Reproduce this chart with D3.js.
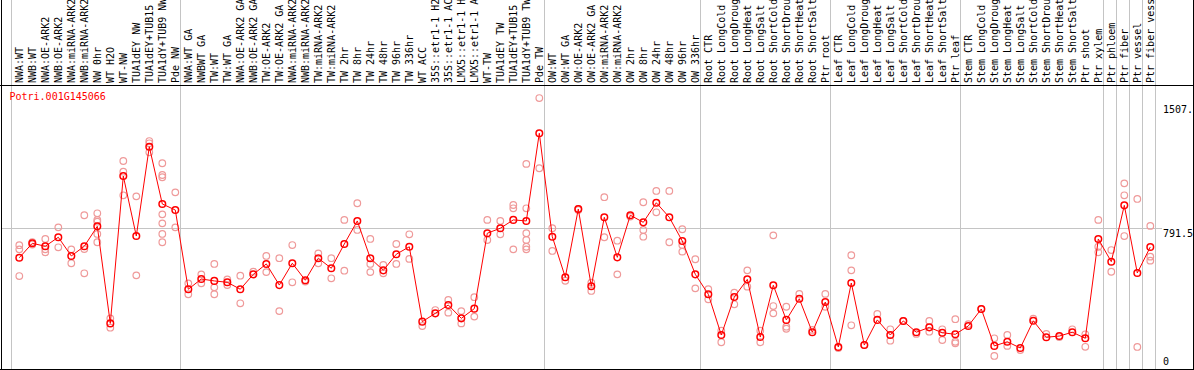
<!DOCTYPE html>
<html>
<head>
<meta charset="utf-8">
<script src="https://cdn.jsdelivr.net/npm/d3@7"></script>
<style>
  body { margin: 0; background: #fff; }
  svg { display: block; }
  text { font-family: "DejaVu Sans Mono", monospace; font-size: 10px; }
</style>
</head>
<body>
<div id="chart"></div>
<script>
// column labels, one per sample
var labels = [
  "NWA:WT","NWB:WT","NWA:OE-ARK2","NWB:OE-ARK2","NWA:miRNA-ARK2","NWB:miRNA-ARK2","NW 0hr","WT H2O","WT-NW","TUA1dEY NW","TUA1dEY+TUB15 NW","TUA1dY+TUB9 NW","Pde NW",
  "NWA:WT GA","NWBWT GA","TW:WT","TW:WT GA","NWA:OE-ARK2 GA","NWB:OE-ARK2 GA","TW:OE-ARK2","TW:OE-ARK2 GA","NWA:miRNA-ARK2 GA","NWB:miRNA-ARK2 GA","TW:miRNA-ARK2","TW:miRNA-ARK2 GA","TW 2hr","TW 8hr","TW 24hr","TW 48hr","TW 96hr","TW 336hr","WT ACC","35S::etr1-1 H2O","35S::etr1-1 ACC","LMX5::etr1-1 H2O","LMX5::etr1-1 ACC","WT-TW","TUA1dEY TW","TUA1dEY+TUB15 TW","TUA1dY+TUB9 TW","Pde TW",
  "OW:WT","OW:WT GA","OW:OE-ARK2","OW:OE-ARK2 GA","OW:miRNA-ARK2","OW:miRNA-ARK2 GA","OW 2hr","OW 8hr","OW 24hr","OW 48hr","OW 96hr","OW 336hr",
  "Root CTR","Root LongCold","Root LongDrought","Root LongHeat","Root LongSalt","Root ShortCold","Root ShortDrought","Root ShortHeat","Root ShortSalt","Ptr root",
  "Leaf CTR","Leaf LongCold","Leaf LongDrought","Leaf LongHeat","Leaf LongSalt","Leaf ShortCold","Leaf ShortDrought","Leaf ShortHeat","Leaf ShortSalt","Ptr leaf",
  "Stem CTR","Stem LongCold","Stem LongDrought","Stem LongHeat","Stem LongSalt","Stem ShortCold","Stem ShortDrought","Stem ShortHeat","Stem ShortSalt","Ptr shoot",
  "Ptr xylem","Ptr phloem","Ptr fiber","Ptr vessel","Ptr fiber vessel"
];

// index of first column of each block (vertical separators)
var groupStarts = [0, 13, 41, 53, 63, 73, 84, 85, 86, 87, 88];

// mean expression per column
var means = [
  622, 705, 688, 740, 632, 688, 803, 243, 1093, 747, 1262, 932, 897,
  440, 499, 488, 480, 440, 526, 586, 464, 590, 492, 619, 561, 701, 834, 619, 549, 642, 685, 253, 301, 349, 272, 328, 763, 792, 840, 834, 1340,
  743, 509, 903, 457, 855, 624, 867, 826, 939, 855, 718, 526,
  411, 176, 395, 497, 164, 463, 263, 385, 192, 366,
  107, 476, 118, 263, 176, 257, 192, 220, 189, 180,
  228, 326, 113, 137, 101, 258, 163, 170, 192, 157,
  730, 599, 924, 534, 684
];

// individual replicates per column
var reps = [
  [694, 670, 516], [712, 698], [730, 670, 653], [797, 682], [670, 590], [867, 672, 532],
  [878, 840, 830, 759, 711], [272, 218], [1180, 1118, 982], [976, 520], [1295, 1282, 1230],
  [1167, 1099, 1086, 872, 820, 759, 711], [999, 797],
  [474, 411], [526, 474], [586, 451, 411], [497, 464], [518, 359], [541], [632, 539], [619, 314],
  [695, 480], [484], [647, 590], [619, 503], [840, 547], [936, 782], [730, 586, 539], [580, 532],
  [701, 586], [757, 615], [228], [320], [378, 305], [314, 243], [394, 282], [840, 724], [834, 757],
  [926, 907, 670], [1163, 907, 763, 724, 685, 670], [1543, 1138],
  [792, 661], [489], [903, 897], [478, 430], [971, 740], [720, 526], [859], [942, 782, 743],
  [1007, 884], [1007, 711], [786, 695, 657], [613, 445],
  [440, 382], [201, 134], [420, 353], [549, 455], [201, 134], [751, 343, 301], [339, 224, 212],
  [413], [205], [413, 339],
  [101], [636, 549, 232], [118], [297], [209, 143], [257], [182], [257, 195], [209, 147], [267, 137, 128],
  [238], [326], [157, 55], [176, 113], [89], [270], [182], [164], [209], [180, 108],
  [840, 685, 653], [666, 541], [1051, 982, 747], [961, 107], [805, 628, 605]
];

var tickValues = [1507, 791.5, 0];
var tickLabels = ["1507.", "791.5", "0"];
var geneName = "Potri.001G145066";

var svgWidth = 1194;
var svgHeight = 370;
var headerBottom = 85;
var plotBottom = 369;
var plotRight = 1155;

var svg = d3.select("#chart")
  .append("svg")
  .attr("width", svgWidth)
  .attr("height", svgHeight);

var x = d3.scaleLinear()
  .domain([0, labels.length - 1])
  .range([19.3, 19.3 + 13 * (labels.length - 1)]);

var y = d3.scaleLinear()
  .domain([0, 1507])
  .range([365.5, 104.3]);

// vertical separators between blocks
svg.selectAll(".vgrid")
  .data(groupStarts)
  .enter()
  .append("line")
  .attr("x1", d => Math.round(x(d - 0.65)) + 0.5)
  .attr("x2", d => Math.round(x(d - 0.65)) + 0.5)
  .attr("y1", 0)
  .attr("y2", plotBottom)
  .attr("stroke", "#c4c4c4")
  .attr("stroke-width", 1);

// middle horizontal grid line
svg.append("line")
  .attr("x1", 1)
  .attr("x2", 1162)
  .attr("y1", Math.round(y(tickValues[1])) + 0.5)
  .attr("y2", Math.round(y(tickValues[1])) + 0.5)
  .attr("stroke", "#c4c4c4");

// replicates
var repPoints = [];
reps.forEach(function(r, i) {
  r.forEach(function(v) { repPoints.push({ i: i, v: v }); });
});

svg.selectAll(".rep")
  .data(repPoints)
  .enter()
  .append("circle")
  .attr("cx", d => x(d.i))
  .attr("cy", d => y(d.v))
  .attr("r", 3.3)
  .attr("fill", "none")
  .attr("stroke", "#ef9a9a")
  .attr("stroke-width", 1.2);

// mean line
var line = d3.line()
  .x((d, i) => x(i))
  .y(d => y(d));

svg.append("path")
  .datum(means)
  .attr("d", line)
  .attr("fill", "none")
  .attr("stroke", "#ff0000")
  .attr("stroke-width", 1);

svg.selectAll(".mean")
  .data(means)
  .enter()
  .append("circle")
  .attr("cx", (d, i) => x(i))
  .attr("cy", d => y(d))
  .attr("r", 3.3)
  .attr("fill", "none")
  .attr("stroke", "#ff0000")
  .attr("stroke-width", 1.5);

// column labels (rotated)
svg.selectAll(".lab")
  .data(labels)
  .enter()
  .append("text")
  .attr("transform", (d, i) => `translate(${x(i) + 4}, 83) rotate(-90)`)
  .attr("fill", "#000")
  .text(d => d);

// right side values
svg.selectAll(".tick")
  .data(tickValues)
  .enter()
  .append("text")
  .attr("x", 1163)
  .attr("y", d => d === 0 ? y(d) - 0.5 : y(d) + 8.5)
  .attr("fill", "#000")
  .text((d, i) => tickLabels[i]);

// gene name
svg.append("text")
  .attr("x", 9.5)
  .attr("y", 100)
  .attr("fill", "#ff0000")
  .text(geneName);

// frame
var frame = svg.append("g")
  .attr("stroke", "#000")
  .attr("stroke-width", 1)
  .attr("shape-rendering", "crispEdges");
frame.append("line").attr("x1", 1.5).attr("x2", 1.5).attr("y1", 0).attr("y2", svgHeight);
frame.append("line").attr("x1", 1193.5).attr("x2", 1193.5).attr("y1", 0).attr("y2", svgHeight);
frame.append("line").attr("x1", 0).attr("x2", svgWidth).attr("y1", headerBottom + 0.5).attr("y2", headerBottom + 0.5);
frame.append("line").attr("x1", 0).attr("x2", svgWidth).attr("y1", plotBottom + 0.5).attr("y2", plotBottom + 0.5);
</script>
</body>
</html>
